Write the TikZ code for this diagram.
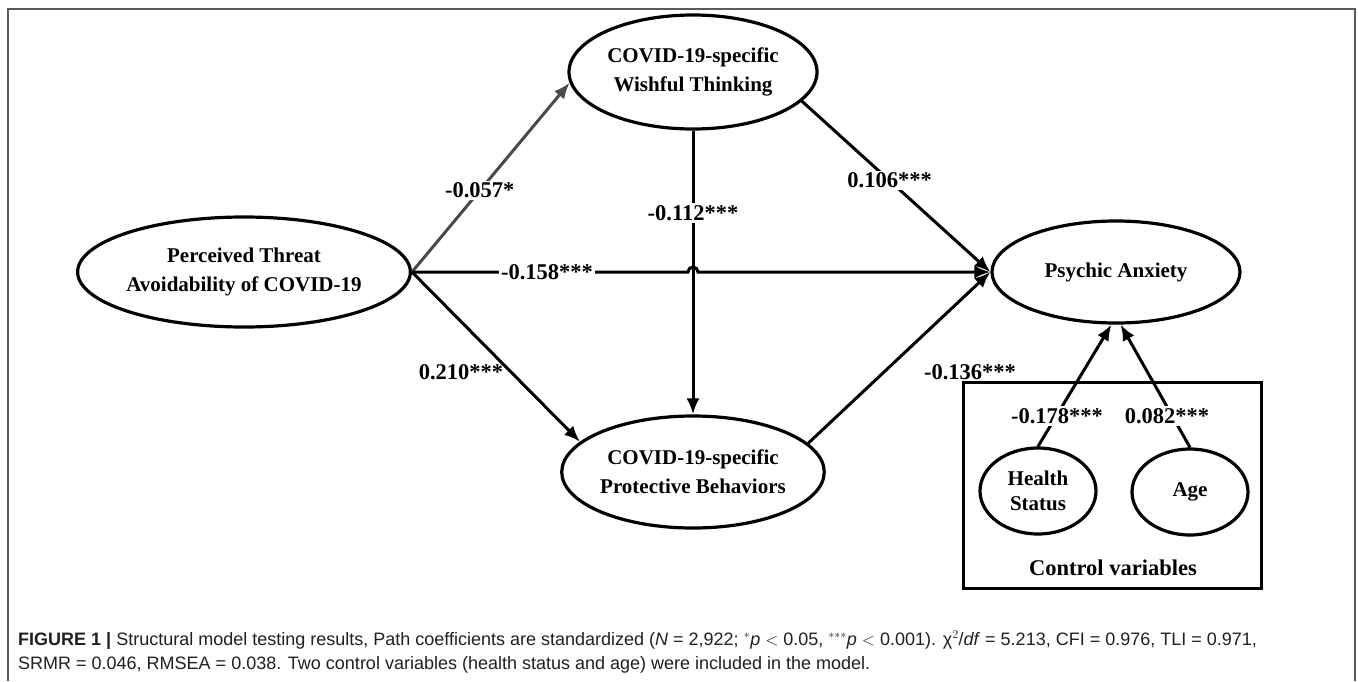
\documentclass[tikz,border=0pt]{standalone}
\usepackage{fontspec}
\setmainfont{Liberation Serif}
\newfontfamily\capfont{Liberation Sans}
\usetikzlibrary{shapes.geometric,arrows.meta}
\definecolor{framegray}{HTML}{5A5A5A}
\definecolor{arrgray}{HTML}{4A4A4A}
\definecolor{captxt}{HTML}{231F20}
\tikzset{
  latent/.style={ellipse,draw=black,line width=3.2pt,inner sep=0pt,align=center,
    font=\bfseries\fontsize{21}{29}\selectfont},
  small/.style={ellipse,draw=black,line width=3.2pt,inner sep=0pt,align=center,
    font=\bfseries\fontsize{21}{25}\selectfont},
  path/.style={line width=3pt,-{Latex[length=16pt,width=13pt]}},
  coef/.style={font=\bfseries\fontsize{22.5}{26}\selectfont,inner sep=2pt},
  coefw/.style={coef,fill=white},
  captext/.style={anchor=base west,inner sep=0pt,text=captxt,font=\capfont\fontsize{18}{22}\selectfont}
}
\begin{document}
\begin{tikzpicture}[x=1pt,y=-1pt]
\useasboundingbox (0,0) rectangle (1358,681);
\fill[white] (0,0) rectangle (1358,681);
% outer frame
\draw[framegray,line width=2pt] (8,681) -- (8,9) -- (1355,9) -- (1355,681);

% nodes
\node[latent,minimum width=296pt,minimum height=110pt] (pt) at (244,272) {Perceived Threat\\Avoidability of COVID-19};
\node[latent,minimum width=248pt,minimum height=114pt] (wt) at (693,72) {COVID-19-specific\\Wishful Thinking};
\node[latent,minimum width=252pt,minimum height=112pt] (pb) at (693,472) {COVID-19-specific\\Protective Behaviors};
\node[latent,minimum width=248pt,minimum height=102pt] (pa) at (1116,272) {Psychic Anxiety};
\node[draw=black,line width=3pt,minimum width=298pt,minimum height=206pt,inner sep=0pt] (cv) at (1112,485) {};
\node[small,minimum width=116pt,minimum height=86pt] (hs) at (1038,491) {Health\\Status};
\node[small,minimum width=116pt,minimum height=86pt] (ag) at (1190,492) {Age};
\node[coef] (cvl) at (1113,568) {Control variables};

% paths
\draw[path,arrgray] (pt.east) -- node[coefw,pos=0.43,text=black] (l1) {-0.057*} (wt.185);
\draw[path] (wt.south) -- node[coefw,pos=0.29] (l2) {-0.112***} (pb.north);
\draw[path] (wt.345) -- node[coefw,pos=0.465] (l3) {0.106***} (pa.west);
\draw[path] (pt.east) -- (688,272) arc (180:360:5) -- (pa.west);
\node[coefw] (l4) at (547,272) {-0.158***};
\draw[path] (pt.east) -- (pb.165);
\node[coef] (l5) at (461,372) {0.210***};
\draw[path] (pb.14) -- (pa.west);
\node[coef] (l6) at (970,372) {-0.136***};
\draw[path] (hs.north) -- (pa.265);
\node[coefw] (l7) at (1057,416) {-0.178***};
\draw[path] (ag.north) -- (pa.275);
\node[coefw] (l8) at (1167,416) {0.082***};

% caption
\node[captext] (cap1) at (18,645) {{\bfseries FIGURE 1 |} Structural model testing results, Path coefficients are standardized (\emph{N} = 2,922; $^{*}$\emph{p} $<$ 0.05, $^{***}$\emph{p} $<$ 0.001). χ$^{2}$/\emph{df} = 5.213, CFI = 0.976, TLI = 0.971,};
\node[captext] (cap2) at (18,669) {SRMR = 0.046, RMSEA = 0.038. Two control variables (health status and age) were included in the model.};
\end{tikzpicture}
\end{document}
